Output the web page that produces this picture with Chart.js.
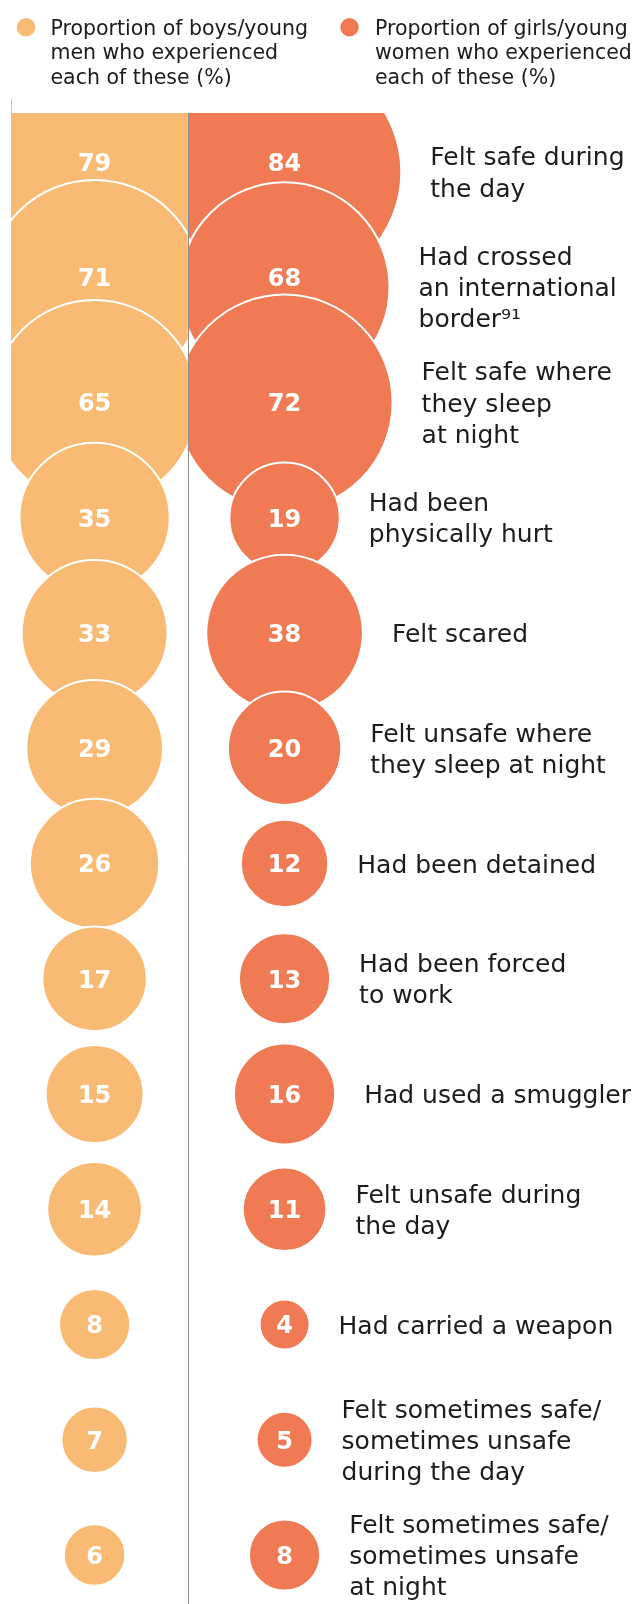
<!DOCTYPE html>
<html>
<head>
<meta charset="utf-8">
<script src="https://cdn.jsdelivr.net/npm/chart.js@4.4.0/dist/chart.umd.min.js"></script>
<style>
  html, body { margin: 0; padding: 0; background: #ffffff; }
  #wrap { width: 633px; height: 1604px; position: relative; }
  canvas { display: block; }
</style>
</head>
<body>
<div id="wrap"><canvas id="chart" width="633" height="1604"></canvas></div>
<script>
// ---------- data ----------
const categories = [
  ["Felt safe during", "the day"],
  ["Had crossed", "an international", "border\u2079\u00B9"],
  ["Felt safe where", "they sleep", "at night"],
  ["Had been", "physically hurt"],
  ["Felt scared"],
  ["Felt unsafe where", "they sleep at night"],
  ["Had been detained"],
  ["Had been forced", "to work"],
  ["Had used a smuggler"],
  ["Felt unsafe during", "the day"],
  ["Had carried a weapon"],
  ["Felt sometimes safe/", "sometimes unsafe", "during the day"],
  ["Felt sometimes safe/", "sometimes unsafe", "at night"]
];
const boysValues  = [79, 71, 65, 35, 33, 29, 26, 17, 15, 14, 8, 7, 6];
const girlsValues = [84, 68, 72, 19, 38, 20, 12, 13, 16, 11, 4, 5, 8];
const seriesNames = [
  ["Proportion of boys/young", "men who experienced", "each of these (%)"],
  ["Proportion of girls/young", "women who experienced", "each of these (%)"]
];

// ---------- styles ----------
const BOYS_COLOR = '#F9BB73';
const GIRLS_COLOR = '#EF7A54';
const TEXT_COLOR = '#1E1B1C';
const FONT = '"DejaVu Sans", sans-serif';
const DIVIDER_VALUE = 0.49;
const radiusOf = v => 12.8 * Math.sqrt(v) - 0.6;

const toPoints = (vals, col) => vals.map((v, i) => ({ x: col, y: i, r: radiusOf(v), v: v }));

const customPlugin = {
  id: 'custom',
  beforeDatasetDraw(chart, args) {
    const { ctx, chartArea: a } = chart;
    const div = chart.scales.x.getPixelForValue(DIVIDER_VALUE);
    ctx.save();
    ctx.beginPath();
    if (args.index === 0) ctx.rect(a.left, a.top, div - a.left, a.bottom - a.top);
    else ctx.rect(div, a.top, a.right - div, a.bottom - a.top);
    ctx.clip();
  },
  afterDatasetDraw(chart) {
    chart.ctx.restore();
  },
  afterDatasetsDraw(chart) {
    const { ctx, chartArea: a, scales: { x, y } } = chart;
    // divider
    const div = Math.round(x.getPixelForValue(DIVIDER_VALUE)) + 0.5;
    ctx.save();
    ctx.strokeStyle = '#8C8C8C';
    ctx.lineWidth = 1;
    ctx.beginPath();
    ctx.moveTo(div, a.top);
    ctx.lineTo(div, a.bottom);
    ctx.stroke();
    // small tick at top-left
    ctx.strokeStyle = BOYS_COLOR;
    ctx.beginPath();
    ctx.moveTo(a.left + 0.5, a.top - 14);
    ctx.lineTo(a.left + 0.5, a.top);
    ctx.stroke();

    // numbers inside bubbles
    const ds = chart.data.datasets;
    ctx.fillStyle = '#FFFFFF';
    ctx.font = 'bold 24px ' + FONT;
    ctx.textAlign = 'center';
    ctx.textBaseline = 'alphabetic';
    const n = categories.length;
    for (let i = 0; i < n; i++) {
      const cy = y.getPixelForValue(i);
      let shift = 0;
      if (i + 1 < n) {
        const ny = y.getPixelForValue(i + 1);
        const nextTop = Math.min(...ds.map(d => ny - d.data[i + 1].r));
        if (nextTop < cy + 20) shift = -10;
      }
      ds.forEach(d => {
        const p = d.data[i];
        ctx.fillText(String(p.v), x.getPixelForValue(p.x), cy + shift + 8.8);
      });
    }

    // category labels to the right of girls bubbles
    ctx.fillStyle = TEXT_COLOR;
    ctx.font = '25px ' + FONT;
    ctx.textAlign = 'left';
    const lh = 31.2;
    for (let i = 0; i < n; i++) {
      const p = ds[1].data[i];
      const lx = x.getPixelForValue(p.x) + p.r + 29;
      const cy = y.getPixelForValue(i);
      const lines = categories[i];
      lines.forEach((t, k) => {
        const ly = cy + (k - (lines.length - 1) / 2) * lh + 9;
        ctx.fillText(t, lx, ly);
      });
    }
    ctx.restore();
  },
  afterDraw(chart) {
    const ctx = chart.ctx;
    ctx.save();
    const items = [
      { color: BOYS_COLOR, dotX: 26, textX: 50.5, lines: seriesNames[0] },
      { color: GIRLS_COLOR, dotX: 349.5, textX: 375, lines: seriesNames[1] }
    ];
    items.forEach(it => {
      ctx.fillStyle = it.color;
      ctx.beginPath();
      ctx.arc(it.dotX, 27.3, 9.2, 0, Math.PI * 2);
      ctx.fill();
      ctx.fillStyle = TEXT_COLOR;
      ctx.font = '20.5px ' + FONT;
      ctx.textAlign = 'left';
      ctx.textBaseline = 'alphabetic';
      it.lines.forEach((t, k) => ctx.fillText(t, it.textX, 34.5 + k * 24.5));
    });
    ctx.restore();
  }
};

new Chart(document.getElementById('chart'), {
  type: 'bubble',
  data: {
    datasets: [
      {
        label: seriesNames[0].join(' '),
        data: toPoints(boysValues, 0),
        backgroundColor: BOYS_COLOR,
        borderColor: '#FFFFFF',
        borderWidth: 2,
        hoverBorderWidth: 2
      },
      {
        label: seriesNames[1].join(' '),
        data: toPoints(girlsValues, 1),
        backgroundColor: GIRLS_COLOR,
        borderColor: '#FFFFFF',
        borderWidth: 2,
        hoverBorderWidth: 2
      }
    ]
  },
  options: {
    responsive: false,
    animation: false,
    devicePixelRatio: 1,
    events: [],
    layout: { autoPadding: false, padding: { top: 113, left: 11, right: 0, bottom: 0 } },
    scales: {
      x: { type: 'linear', min: -0.44, max: 2.834, display: false },
      y: { type: 'linear', min: -0.512, max: 12.425, reverse: true, display: false }
    },
    plugins: { legend: { display: false }, tooltip: { enabled: false } }
  },
  plugins: [customPlugin]
});
</script>
</body>
</html>
